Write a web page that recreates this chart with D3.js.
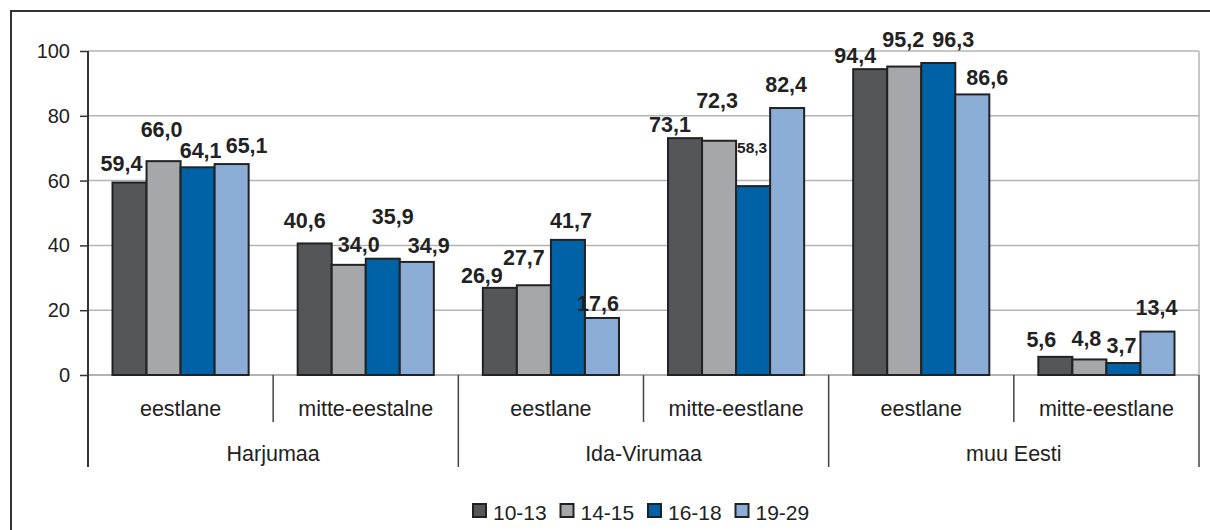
<!DOCTYPE html>
<html>
<head>
<meta charset="utf-8">
<script src="https://cdn.jsdelivr.net/npm/d3@7"></script>
<style>
  body { margin: 0; background: #fff; }
  svg { display: block; font-family: "Liberation Sans", Arial, sans-serif; }
</style>
</head>
<body>
<svg id="chart" width="1210" height="530"></svg>
<script>
// data

var regions = ["Harjumaa", "Ida-Virumaa", "muu Eesti"];
var subgroups = [
  ["eestlane", "mitte-eestalne"],
  ["eestlane", "mitte-eestlane"],
  ["eestlane", "mitte-eestlane"]
];
var ageGroups = ["10-13", "14-15", "16-18", "19-29"];

var v1013 = [59.4, 40.6, 26.9, 73.1, 94.4, 5.6];
var v1415 = [66.0, 34.0, 27.7, 72.3, 95.2, 4.8];
var v1618 = [64.1, 35.9, 41.7, 58.3, 96.3, 3.7];
var v1929 = [65.1, 34.9, 17.6, 82.4, 86.6, 13.4];

var yTicks = [0, 20, 40, 60, 80, 100];

// layout / styling
var colors = ["#55565a", "#a6a7ab", "#0062a6", "#8caed6"];

// label nudges [dx from bar centre, baseline above bar top], per group and series
var labelNudge = [
  [[-8, -12], [-2, -24], [3, -9], [15, -11]],
  [[-10, -15], [10, -13], [10, -35], [12, -9]],
  [[-18, -5], [-10, -20], [3, -12], [-4, -7]],
  [[-15, -6], [-2, -33], [-1, -33], [-1, -16]],
  [[-15, -6], [-1, -20], [15, -16], [15, -9]],
  [[-14, -10], [-3, -13], [-2, -10], [-1, -17]]
];

var svg = d3.select("#chart");
var plot = {left: 88, right: 1199, top: 51, bottom: 375};

// flatten categories
var cats = [];
regions.forEach(function(r, i) {
  subgroups[i].forEach(function(s) { cats.push(r + "|" + s); });
});
var series = [v1013, v1415, v1618, v1929];

var x0 = d3.scaleBand().domain(cats).range([plot.left, plot.right]);
var x1 = d3.scaleBand().domain(ageGroups)
    .range([0, x0.bandwidth()])
    .paddingInner(0)
    .paddingOuter(0.72);
var y = d3.scaleLinear().domain([0, 100]).range([plot.bottom, plot.top]);

// outer frame
svg.append("path")
    .attr("d", "M11,531 L11,11 L1211,11")
    .attr("fill", "none")
    .attr("stroke", "#333")
    .attr("stroke-width", 2);

// gridlines
svg.append("g").selectAll("line")
    .data(yTicks.filter(function(t) { return t > 0; }))
    .enter().append("line")
      .attr("x1", plot.left).attr("x2", plot.right)
      .attr("y1", function(d) { return y(d); })
      .attr("y2", function(d) { return y(d); })
      .attr("stroke", "#b4b4b4")
      .attr("stroke-width", 1.5);

// right border of plot area
svg.append("line")
    .attr("x1", plot.right).attr("x2", plot.right)
    .attr("y1", plot.top).attr("y2", plot.bottom)
    .attr("stroke", "#b4b4b4")
    .attr("stroke-width", 1.5);

// bottom axis line
svg.append("line")
    .attr("x1", plot.left).attr("x2", plot.right)
    .attr("y1", plot.bottom).attr("y2", plot.bottom)
    .attr("stroke", "#999")
    .attr("stroke-width", 1.5);

// y axis
var yAxis = d3.axisLeft(y).tickValues(yTicks).tickSize(8).tickPadding(10)
    .tickFormat(d3.format("d"));
var ya = svg.append("g")
    .attr("transform", "translate(" + plot.left + ",0)")
    .call(yAxis);
ya.select(".domain").remove();
ya.selectAll(".tick line").attr("stroke", "#333").attr("stroke-width", 1.5);
ya.selectAll(".tick text")
    .attr("font-size", 20)
    .attr("font-family", "Liberation Sans, Arial, sans-serif")
    .attr("fill", "#222");
svg.append("line")
    .attr("x1", plot.left).attr("x2", plot.left)
    .attr("y1", plot.top).attr("y2", 467)
    .attr("stroke", "#333")
    .attr("stroke-width", 2);

// bars
var groups = svg.append("g").selectAll(".grp")
    .data(cats)
    .enter().append("g")
      .classed("grp", true)
      .attr("transform", function(d) { return "translate(" + x0(d) + ",0)"; });

function barData(d, gi) {
  return ageGroups.map(function(a, si) {
    return {age: a, value: series[si][gi], gi: gi, si: si};
  });
}

groups.selectAll("rect")
    .data(barData)
    .enter().append("rect")
      .attr("x", function(d) { return x1(d.age); })
      .attr("y", function(d) { return y(d.value); })
      .attr("width", x1.bandwidth())
      .attr("height", function(d) { return y(0) - y(d.value); })
      .attr("fill", function(d) { return colors[d.si]; })
      .attr("stroke", "#222")
      .attr("stroke-width", 2);

// value labels
groups.selectAll(".val")
    .data(barData)
    .enter().append("text")
      .classed("val", true)
      .attr("x", function(d) {
        return x1(d.age) + x1.bandwidth() / 2 + labelNudge[d.gi][d.si][0];
      })
      .attr("y", function(d) { return y(d.value) + labelNudge[d.gi][d.si][1]; })
      .attr("text-anchor", "middle")
      .attr("font-weight", "bold")
      .attr("font-size", function(d) { return (d.gi === 3 && d.si === 2) ? 15.5 : 21.5; })
      .attr("fill", "#222")
      .text(function(d) { return d.value.toFixed(1).replace(".", ","); });

// category axis: subgroup labels and separators
cats.forEach(function(c, i) {
  var parts = c.split("|");
  svg.append("text")
      .attr("x", x0(c) + x0.bandwidth() / 2)
      .attr("y", 416)
      .attr("text-anchor", "middle")
      .attr("font-size", 21.5)
      .attr("fill", "#222")
      .text(parts[1]);
  if (i > 0) {
    var regionStart = (i % 2 === 0);
    svg.append("line")
        .attr("x1", x0(c)).attr("x2", x0(c))
        .attr("y1", plot.bottom).attr("y2", regionStart ? 467 : 422)
        .attr("stroke", "#444")
        .attr("stroke-width", 1.5);
  }
});
svg.append("line")
    .attr("x1", plot.right).attr("x2", plot.right)
    .attr("y1", plot.bottom).attr("y2", 467)
    .attr("stroke", "#444")
    .attr("stroke-width", 1.5);

regions.forEach(function(r, i) {
  var a = x0(r + "|" + subgroups[i][0]);
  var b = x0(r + "|" + subgroups[i][1]) + x0.bandwidth();
  svg.append("text")
      .attr("x", (a + b) / 2)
      .attr("y", 461)
      .attr("text-anchor", "middle")
      .attr("font-size", 21.5)
      .attr("fill", "#222")
      .text(r);
});

// legend
var legend = svg.append("g").attr("transform", "translate(473,504)");
var li = legend.selectAll("g")
    .data(ageGroups)
    .enter().append("g")
      .attr("transform", function(d, i) { return "translate(" + (i * 87.5) + ",0)"; });
li.append("rect")
    .attr("width", 13).attr("height", 13)
    .attr("fill", function(d, i) { return colors[i]; })
    .attr("stroke", "#222")
    .attr("stroke-width", 2);
li.append("text")
    .attr("x", 20)
    .attr("y", 16)
    .attr("font-size", 21)
    .attr("fill", "#222")
    .text(function(d) { return d; });
</script>
</body>
</html>
